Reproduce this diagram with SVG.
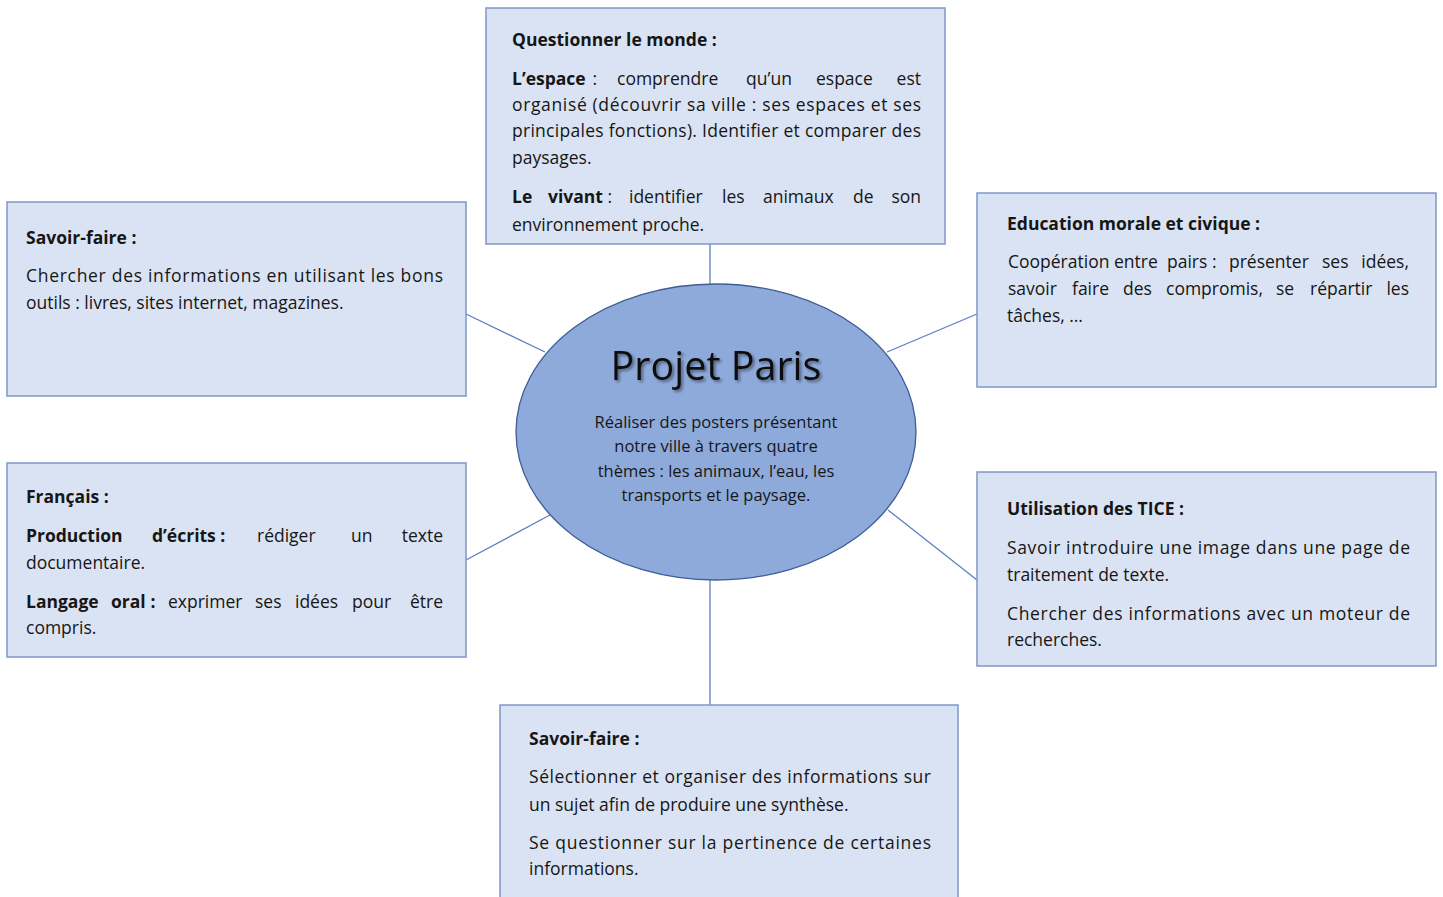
<svg xmlns="http://www.w3.org/2000/svg" width="1443" height="897" viewBox="0 0 1443 897">
<style>
.box{fill:#dae3f3;stroke:#7f97c9;stroke-width:1.5}
.t{font-family:"Open Sans","Liberation Sans",sans-serif;font-size:17.5px;fill:#161616}
.b{font-weight:bold}
.e{text-anchor:end}
.c{font-family:"Open Sans","Liberation Sans",sans-serif;font-size:16.5px;fill:#161616;text-anchor:middle}
.ttl{font-family:"Open Sans","Liberation Sans",sans-serif;font-size:39.5px;fill:#111;text-anchor:middle}
.con{stroke:#5b7fc4;stroke-width:1.3;fill:none}
</style>
<defs>
<filter id="sh" x="-10%" y="-30%" width="120%" height="160%">
<feGaussianBlur in="SourceAlpha" stdDeviation="1.5"/>
<feOffset dx="1.5" dy="2" result="o"/>
<feComponentTransfer><feFuncA type="linear" slope="0.45"/></feComponentTransfer>
<feMerge><feMergeNode/><feMergeNode in="SourceGraphic"/></feMerge>
</filter>
</defs>
<rect width="1443" height="897" fill="#ffffff"/>
<g id="connectors">
<line class="con" x1="710" y1="244" x2="710" y2="285"/>
<line class="con" x1="466" y1="314" x2="545" y2="352"/>
<line class="con" x1="977" y1="314" x2="887" y2="352"/>
<line class="con" x1="466" y1="560" x2="550" y2="515"/>
<line class="con" x1="977" y1="580" x2="888" y2="510"/>
<line class="con" x1="710" y1="580" x2="710" y2="705"/>
</g>
<g id="center">
<ellipse cx="716" cy="432" rx="200" ry="148" fill="#8eaadb" stroke="#3f5c96" stroke-width="1.3"/>
<text class="ttl" x="716" y="380" filter="url(#sh)">Projet Paris</text>
<text class="c" x="716" y="428">Réaliser des posters présentant</text>
<text class="c" x="716" y="452">notre ville à travers quatre</text>
<text class="c" x="716" y="477">thèmes : les animaux, l’eau, les</text>
<text class="c" x="716" y="501">transports et le paysage.</text>
</g>
<g id="questionner">
<rect class="box" x="486" y="8" width="459" height="236"/>
<text class="t b" x="512" y="46">Questionner le monde :</text>
<text class="t" y="85"><tspan class="b" x="512">L’espace</tspan><tspan x="588"> :</tspan><tspan x="617">comprendre</tspan><tspan x="746">qu’un</tspan><tspan x="816">espace</tspan></text>
<text class="t e" x="921" y="85">est</text>
<text class="t" x="512" y="111" textLength="409" lengthAdjust="spacing">organisé (découvrir sa ville : ses espaces et ses</text>
<text class="t" x="512" y="137" textLength="409" lengthAdjust="spacing">principales fonctions). Identifier et comparer des</text>
<text class="t" x="512" y="164">paysages.</text>
<text class="t" y="203"><tspan class="b" x="512">Le</tspan><tspan class="b" x="548">vivant</tspan><tspan x="603"> :</tspan><tspan x="629">identifier</tspan><tspan x="722">les</tspan><tspan x="763">animaux</tspan><tspan x="853">de</tspan></text>
<text class="t e" x="921" y="203">son</text>
<text class="t" x="512" y="231">environnement proche.</text>
</g>
<g id="savoir-faire-1">
<rect class="box" x="7" y="202" width="459" height="194"/>
<text class="t b" x="26" y="244">Savoir-faire :</text>
<text class="t" x="26" y="282" textLength="417" lengthAdjust="spacing">Chercher des informations en utilisant les bons</text>
<text class="t" x="26" y="309">outils : livres, sites internet, magazines.</text>
</g>
<g id="emc">
<rect class="box" x="977" y="193" width="459" height="194"/>
<text class="t b" x="1007" y="230">Education morale et civique :</text>
<text class="t" y="268"><tspan x="1008">Coopération</tspan><tspan x="1114">entre</tspan><tspan x="1167">pairs :</tspan><tspan x="1229">présenter</tspan><tspan x="1322">ses</tspan></text>
<text class="t e" x="1409" y="268">idées,</text>
<text class="t" y="295"><tspan x="1008">savoir</tspan><tspan x="1072">faire</tspan><tspan x="1123">des</tspan><tspan x="1166">compromis,</tspan><tspan x="1276">se</tspan><tspan x="1310">répartir</tspan></text>
<text class="t e" x="1409" y="295">les</text>
<text class="t" x="1007" y="322">tâches, …</text>
</g>
<g id="francais">
<rect class="box" x="7" y="463" width="459" height="194"/>
<text class="t b" x="26" y="503">Français :</text>
<text class="t" y="542"><tspan class="b" x="26">Production</tspan><tspan class="b" x="152">d’écrits :</tspan><tspan x="257">rédiger</tspan><tspan x="351">un</tspan></text>
<text class="t e" x="443" y="542">texte</text>
<text class="t" x="26" y="569">documentaire.</text>
<text class="t" y="608"><tspan class="b" x="26">Langage</tspan><tspan class="b" x="111">oral</tspan><tspan class="b" x="146"> :</tspan><tspan x="168">exprimer</tspan><tspan x="255">ses</tspan><tspan x="295">idées</tspan><tspan x="352">pour</tspan></text>
<text class="t e" x="443" y="608">être</text>
<text class="t" x="26" y="634">compris.</text>
</g>
<g id="tice">
<rect class="box" x="977" y="472" width="459" height="194"/>
<text class="t b" x="1007" y="515">Utilisation des TICE :</text>
<text class="t" x="1007" y="554" textLength="403" lengthAdjust="spacing">Savoir introduire une image dans une page de</text>
<text class="t" x="1007" y="581">traitement de texte.</text>
<text class="t" x="1007" y="620" textLength="403" lengthAdjust="spacing">Chercher des informations avec un moteur de</text>
<text class="t" x="1007" y="646">recherches.</text>
</g>
<g id="savoir-faire-2">
<rect class="box" x="500" y="705" width="458" height="200"/>
<text class="t b" x="529" y="745">Savoir-faire :</text>
<text class="t" x="529" y="783" textLength="402" lengthAdjust="spacing">Sélectionner et organiser des informations sur</text>
<text class="t" x="529" y="811">un sujet afin de produire une synthèse.</text>
<text class="t" x="529" y="849" textLength="402" lengthAdjust="spacing">Se questionner sur la pertinence de certaines</text>
<text class="t" x="529" y="875">informations.</text>
</g>
</svg>
